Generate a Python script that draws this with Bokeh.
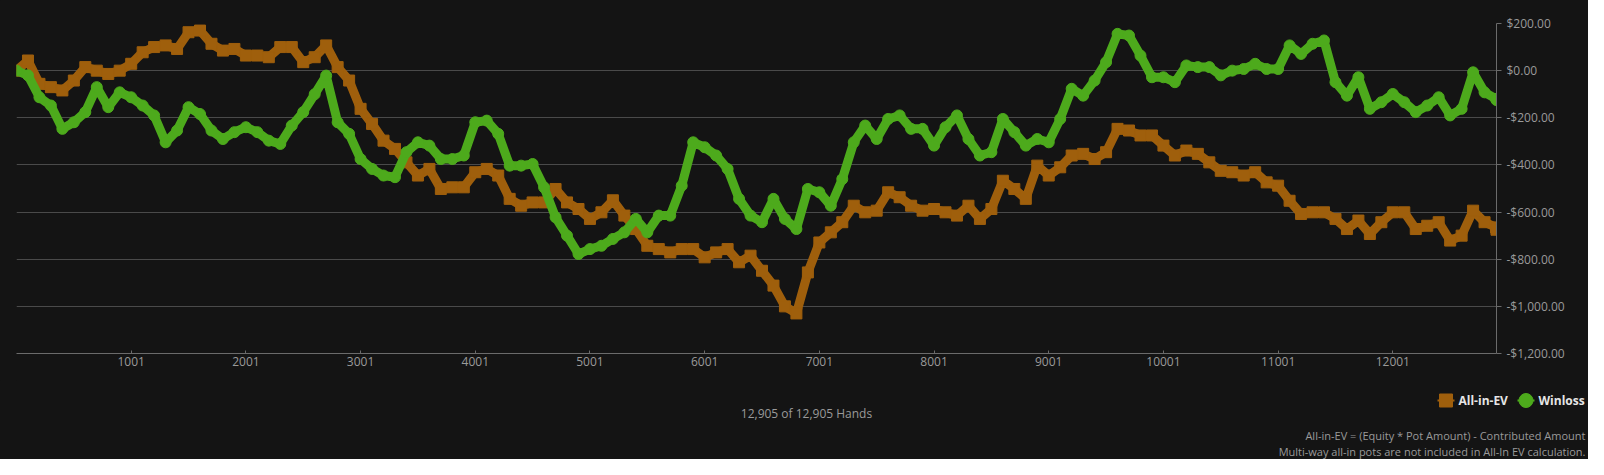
from bokeh.plotting import figure
from bokeh.layouts import column
from bokeh.models import Range1d, FixedTicker
from bokeh.core.properties import value
from bokeh.embed import file_html
from bokeh.resources import INLINE

# ---------------- data ----------------
hands = list(range(1, 12902, 100)) + [12905]

all_in_ev = [
    0, 43, -56, -70, -84, -42, 15, 0, -14, 0,
    29, 78, 100, 107, 92, 163, 170, 114, 85, 92,
    64, 64, 57, 100, 100, 36, 57, 107, 15, -42,
    -162, -226, -297, -332, -389, -445, -417, -502, -495, -495,
    -431, -417, -445, -544, -573, -559, -559, -502, -559, -587,
    -629, -601, -550, -615, -672, -743, -757, -771, -757, -757,
    -792, -771, -757, -813, -785, -849, -912, -1000, -1030, -856,
    -729, -686, -643, -573, -601, -594, -516, -537, -573, -594,
    -587, -601, -615, -573, -629, -587, -467, -502, -544, -403,
    -445, -410, -360, -353, -375, -346, -247, -254, -275, -275,
    -318, -360, -339, -353, -389, -425, -431, -445, -431, -474,
    -488, -552, -608, -601, -601, -629, -672, -636, -693, -643,
    -601, -601, -672, -658, -643, -721, -700, -594, -643, -665,
    -675,
]

winloss = [
    0, -20, -113, -148, -247, -219, -176, -70, -155, -92,
    -113, -148, -190, -304, -254, -155, -184, -254, -290, -261,
    -240, -261, -297, -311, -233, -176, -100, -21, -219, -268,
    -375, -417, -445, -452, -346, -304, -318, -375, -375, -360,
    -219, -212, -268, -403, -403, -396, -495, -622, -700, -778,
    -757, -743, -714, -686, -629, -686, -615, -615, -488, -304,
    -325, -360, -417, -544, -615, -643, -544, -629, -672, -502,
    -516, -573, -460, -304, -233, -290, -205, -190, -247, -247,
    -318, -240, -190, -290, -360, -346, -205, -261, -318, -290,
    -304, -205, -77, -106, -42, 36, 156, 149, 64, -28,
    -28, -49, 22, 15, 15, -20, 0, 7, 29, 7,
    7, 107, 71, 114, 128, -49, -106, -28, -162, -134,
    -99, -134, -176, -148, -113, -190, -162, -7, -92, -120,
    -125,
]

x_ticks = [1001, 2001, 3001, 4001, 5001, 6001, 7001, 8001, 9001, 10001, 11001, 12001]
y_ticks = [200, 0, -200, -400, -600, -800, -1000, -1200]
y_labels = ["$200.00", "$0.00", "-$200.00", "-$400.00", "-$600.00",
            "-$800.00", "-$1,000.00", "-$1,200.00"]

series_names = ["All-in-EV", "Winloss"]
hands_text = "12,905 of 12,905 Hands"
note_lines = ["All-in-EV = (Equity * Pot Amount) - Contributed Amount",
              "Multi-way all-in pots are not included in All-In EV calculation."]

# ---------------- style ----------------
BG = "#141414"
ORANGE = "#9f5f0c"
GREEN = "#4daa1c"
GRID = "#4a4a4a"
AXIS = "#6b6b6b"
TXT = "#9a9a9a"
FONT = "Open Sans"
W = 1588
BGSTYLE = {"background-color": BG}

# ---------------- main chart ----------------
p = figure(width=W, height=380, output_backend="svg", toolbar_location=None,
           x_range=Range1d(1, 12905), y_range=Range1d(-1200, 200),
           y_axis_location="right",
           min_border_left=16, min_border_right=92, min_border_top=23, min_border_bottom=27,
           background_fill_color=BG, border_fill_color=BG, outline_line_color=None,
           styles=BGSTYLE)

p.xgrid.visible = False
p.ygrid.ticker = FixedTicker(ticks=y_ticks)
p.ygrid.grid_line_color = GRID

xa = p.xaxis[0]
xa.ticker = FixedTicker(ticks=x_ticks)
xa.axis_line_color = AXIS
xa.major_tick_line_color = AXIS
xa.major_tick_in = 3
xa.major_tick_out = 0
xa.minor_tick_line_color = None
xa.major_label_standoff = 3
xa.major_label_text_color = TXT
xa.major_label_text_font = FONT
xa.major_label_text_font_size = "12px"

ya = p.yaxis[0]
ya.ticker = FixedTicker(ticks=y_ticks)
ya.major_label_overrides = {t: l for t, l in zip(y_ticks, y_labels)}
ya.axis_line_color = AXIS
ya.major_tick_line_color = AXIS
ya.major_tick_in = 0
ya.major_tick_out = 5
ya.minor_tick_line_color = None
ya.major_label_standoff = 5
ya.major_label_text_color = TXT
ya.major_label_text_font = FONT
ya.major_label_text_font_size = "12px"

p.line(hands, all_in_ev, line_width=9, color=ORANGE, line_join="bevel")
p.scatter(hands, all_in_ev, marker="square", size=11, color=ORANGE)
p.line(hands, winloss, line_width=9, color=GREEN, line_join="round")
p.scatter(hands, winloss, marker="circle", size=11, color=GREEN)

# ---------------- footer: legend and notes (pixel coordinates) ----------------
FH = 79
f = figure(frame_width=W, frame_height=FH, output_backend="svg", toolbar_location=None,
           x_range=Range1d(0, W), y_range=Range1d(0, FH),
           x_axis_location=None, y_axis_location=None,
           min_border=0, background_fill_color=BG, border_fill_color=BG,
           outline_line_color=None, styles=BGSTYLE)
f.xgrid.visible = False
f.ygrid.visible = False

# legend symbols (with their short connector line) + labels
f.segment(x0=[1421, 1501], y0=[59, 59], x1=[1438, 1518], y1=[59, 59],
          line_color=[ORANGE, GREEN], line_width=2)
f.scatter(x=[1429.5], y=[59], marker="square", size=13, color=ORANGE)
f.scatter(x=[1509.5], y=[59], marker="circle", size=14, color=GREEN)
f.text(x=[1442, 1522], y=[59, 59], text=series_names, text_align="left",
       text_baseline="middle", text_color="#e6e6e6", text_font=value(FONT),
       text_font_size="12px", text_font_style="bold")

f.text(x=[790], y=[46], text=[hands_text], text_align="center", text_baseline="middle",
       text_color=TXT, text_font=value(FONT), text_font_size="12px")
f.text(x=[1569, 1569], y=[24, 8], text=note_lines, text_align="right",
       text_baseline="middle", text_color=TXT, text_font=value(FONT), text_font_size="11px")

page = column(p, f, spacing=0, styles=BGSTYLE)
html = file_html(page, INLINE).replace("<body>", '<body style="background:#000000;">', 1)
open("out.html", "w").write(html)
